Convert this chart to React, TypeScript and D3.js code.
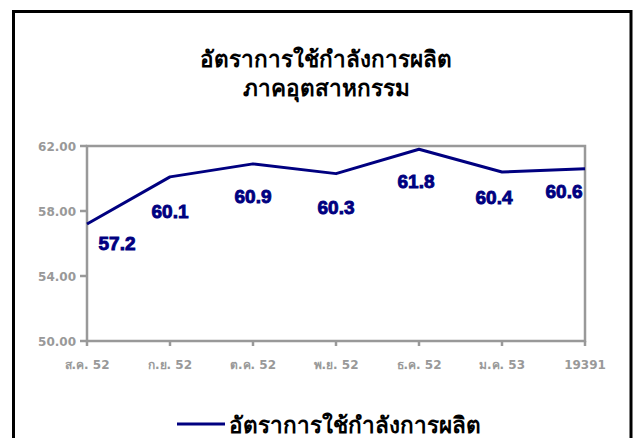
import * as d3 from "d3";

const categories = ["ส.ค. 52", "ก.ย. 52", "ต.ค. 52", "พ.ย. 52", "ธ.ค. 52", "ม.ค. 53", "19391"];
const values = [57.2, 60.1, 60.9, 60.3, 61.8, 60.4, 60.6];
const yTicks = [50, 54, 58, 62];
const seriesName = "อัตราการใช้กำลังการผลิต";
const titleLines = ["อัตราการใช้กำลังการผลิต", "ภาคอุตสาหกรรม"];

// label nudges (Excel put them by hand more or less)
const labelDx = [30, 0, 0, 0, -3, -8, -21];
const labelDy = [26, 41, 39, 40, 39, 32, 29];

export default function App() {
  const width = 635;
  const height = 438;
  const left = 87;
  const right = 585;
  const top = 146;
  const bottom = 341;
  const axisColor = "#999999";
  const lineColor = "#000080";
  const font = "'Liberation Sans', Arial, sans-serif";
  const axisFont = "'DejaVu Sans', Verdana, sans-serif";

  const x = d3.scalePoint<string>().domain(categories).range([left, right]);
  const y = d3.scaleLinear().domain([50, 62]).range([bottom, top]);

  const line = d3
    .line<number>()
    .x((d, i) => x(categories[i]) as number)
    .y((d) => y(d));

  return (
    <svg
      width={width}
      height={height}
      style={{ position: "absolute", left: 0, top: 0, background: "#fff" }}
    >
      <rect x={13.5} y={11.5} width={617.5} height={440} fill="#fff" stroke="#000" strokeWidth={3} />

      {titleLines.map((t, i) => (
        <text
          key={t}
          x={326}
          y={67 + i * 29}
          textAnchor="middle"
          fontFamily={font}
          fontWeight="bold"
          fontSize={22.5}
          fill="#000"
        >
          {t}
        </text>
      ))}

      {/* plot frame */}
      <rect x={left} y={top} width={right - left} height={bottom - top} fill="none" stroke={axisColor} strokeWidth={2.5} />

      {yTicks.map((t) => (
        <g key={t}>
          <line x1={left - 7} x2={left} y1={y(t)} y2={y(t)} stroke={axisColor} strokeWidth={2.5} />
          <text
            x={76}
            y={y(t) + 4.5}
            textAnchor="end"
            fontFamily={axisFont}
            fontWeight="bold"
            fontSize={12}
            fill={axisColor}
          >
            {t.toFixed(2)}
          </text>
        </g>
      ))}

      {categories.map((c) => (
        <g key={c}>
          <line x1={x(c)} x2={x(c)} y1={bottom} y2={bottom + 5} stroke={axisColor} strokeWidth={2.5} />
          <text
            x={x(c)}
            y={369}
            textAnchor="middle"
            fontFamily={axisFont}
            fontWeight="bold"
            fontSize={12}
            fill={axisColor}
          >
            {c}
          </text>
        </g>
      ))}

      <path d={line(values) ?? ""} fill="none" stroke={lineColor} strokeWidth={3} strokeLinejoin="round" />

      {values.map((v, i) => (
        <text
          key={i}
          x={(x(categories[i]) as number) + labelDx[i]}
          y={y(v) + labelDy[i]}
          textAnchor="middle"
          fontFamily={font}
          fontWeight="bold"
          fontSize={19}
          fill={lineColor}
          stroke={lineColor}
          strokeWidth={0.9}
        >
          {v.toFixed(1)}
        </text>
      ))}

      {/* legend */}
      <line x1={177} x2={225} y1={424} y2={424} stroke={lineColor} strokeWidth={3} />
      <text x={229} y={433} fontFamily={font} fontWeight="bold" fontSize={22.5} fill="#000">
        {seriesName}
      </text>
    </svg>
  );
}
